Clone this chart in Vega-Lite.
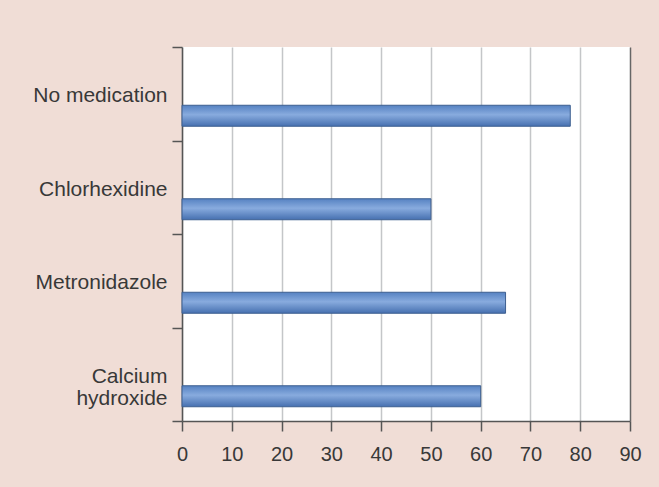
{
  "$schema": "https://vega.github.io/schema/vega-lite/v6.json",
  "width": 448,
  "height": 374,
  "autosize": {"type": "none"},
  "padding": {"left": 182, "top": 47, "right": 29, "bottom": 66},
  "background": "#f0ddd6",
  "config": {
    "view": {"stroke": null, "fill": "white"},
    "font": "Liberation Sans",
    "axis": {"labelFont": "Liberation Sans", "labelColor": "#383838", "labelFontSize": 20, "domainColor": "#555555", "tickColor": "#555555", "domainWidth": 1.5, "tickWidth": 1.5}
  },
  "data": {
    "values": [
      {"treatment": "No medication", "value": 78},
      {"treatment": "Chlorhexidine", "value": 50},
      {"treatment": "Metronidazole", "value": 65},
      {"treatment": "Calcium hydroxide", "value": 60}
    ]
  },
  "mark": {
    "type": "bar",
    "height": 21,
    "yOffset": 22,
    "stroke": "#3d5f90",
    "strokeWidth": 1,
    "color": {
      "gradient": "linear",
      "x1": 0, "y1": 0, "x2": 0, "y2": 1,
      "stops": [
        {"offset": 0, "color": "#5682c2"},
        {"offset": 0.45, "color": "#88abde"},
        {"offset": 1, "color": "#4670b0"}
      ]
    }
  },
  "encoding": {
    "y": {
      "field": "treatment",
      "type": "nominal",
      "sort": null,
      "scale": {"paddingInner": 0, "paddingOuter": 0},
      "axis": {
        "title": null,
        "tickBand": "extent",
        "tickSize": 10,
        "labelPadding": 5,
        "labelOffset": 2,
        "labelFontSize": 21,
        "labelLineHeight": 22,
        "labelLimit": 300,
        "labelExpr": "datum.label == 'Calcium hydroxide' ? ['Calcium', 'hydroxide'] : datum.label"
      }
    },
    "x": {
      "field": "value",
      "type": "quantitative",
      "scale": {"domain": [0, 90], "nice": false},
      "axis": {
        "title": null,
        "values": [0, 10, 20, 30, 40, 50, 60, 70, 80, 90],
        "tickSize": 10,
        "labelPadding": 13,
        "labelFlush": false,
        "grid": true,
        "gridColor": {"condition": {"test": "datum.value == 90", "value": "#666666"}, "value": "#c4c6c8"},
        "gridWidth": 1.5
      }
    }
  }
}
